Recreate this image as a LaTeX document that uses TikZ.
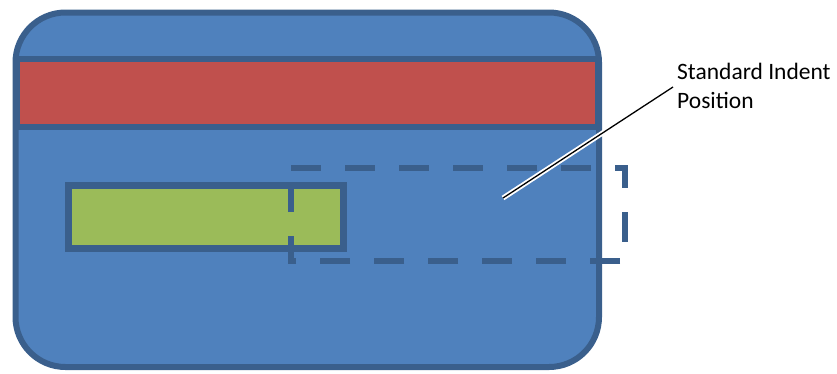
\documentclass[tikz,border=0pt]{standalone}
\usepackage{fontspec}
\setmainfont{Carlito}
\definecolor{cardblue}{HTML}{4F81BD}
\definecolor{edgeblue}{HTML}{3A5F8C}
\definecolor{stripered}{HTML}{C0504D}
\definecolor{chipgreen}{HTML}{9BBB59}
\tikzset{
  shapeedge/.style={draw=edgeblue, line width=6pt, line join=miter},
  indentbox/.style={draw=edgeblue, line width=6pt, dash pattern=on 30pt off 24pt},
  labeltext/.style={font=\fontsize{23.5}{28.8}\selectfont, align=left, inner sep=0pt, anchor=north west}
}
\begin{document}
\begin{tikzpicture}[x=1pt,y=-1pt]
\useasboundingbox (0,0) rectangle (837,373);
% card
\path[shapeedge, fill=cardblue, rounded corners=50pt] (15.5,12.5) rectangle (599,367);
% magnetic stripe
\path[shapeedge, fill=stripered] (17,58.5) rectangle (598,127);
% signature panel
\path[shapeedge, line width=7pt, fill=chipgreen] (68,185) rectangle (343.5,248.5);
% standard indent position
\draw[indentbox] (291,168) -- (625,168) -- (625,261) -- (291,261) -- cycle;
% label
\node[labeltext] (lbl) at (677,63) {Standard Indent\\Position};
\coordinate (tip) at (503,198);
\draw[white, line width=5pt] (tip) -- ([xshift=-4pt,yshift=-24pt]lbl.north west);
\draw[black, line width=1.3pt] (tip) -- ([xshift=-4pt,yshift=-24pt]lbl.north west);
\end{tikzpicture}
\end{document}
